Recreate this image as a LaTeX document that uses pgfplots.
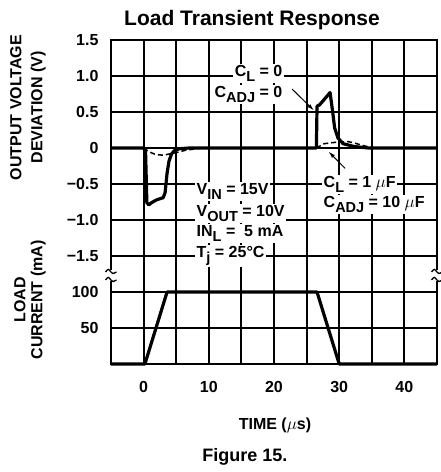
\documentclass[border=0pt]{standalone}
\usepackage{fontspec}
\setmainfont{Liberation Sans}
\usepackage{pgfplots}
\pgfplotsset{compat=1.18}
\usetikzlibrary{arrows.meta}
\newcommand{\sub}[1]{\raisebox{-4.5pt}{\fontsize{14.5}{14.5}\selectfont #1}}
\newcommand{\af}{\bfseries\fontsize{16}{19}\selectfont}

\pgfplotstableread{
t v
-5 0
0 0
0.3 -0.05
0.5 -0.76
0.8 -0.79
1.2 -0.76
2 -0.72
3 -0.69
3.3 -0.62
3.6 -0.35
3.9 -0.18
4.3 -0.08
4.8 -0.03
5.5 -0.01
7 0
26.5 0
26.6 0.58
27 0.60
28.6 0.77
29.0 0.50
29.3 0.28
29.8 0.14
30.6 0.06
32.3 0.02
34.5 0
45 0
}\solidv

\pgfplotstableread{
t v
0 0
0.8 -0.05
1.8 -0.09
3 -0.10
4.7 -0.07
6.5 -0.03
9 0
}\dashA

\pgfplotstableread{
t v
26.5 0
27.7 0.06
29.5 0.08
31.3 0.09
32.3 0.07
33.8 0.03
35.5 0
}\dashB

\pgfplotstableread{
t i
-5 0
0.2 0
3.6 100
26.6 100
30 0
45 0
}\current

\begin{document}
\begin{tikzpicture}
\path[use as bounding box] (0pt,0pt) rectangle (440pt,472pt);
\pgfplotsset{
  common/.style={
    scale only axis, width=326pt,
    xmin=-5, xmax=45,
    xtick={-5,0,5,10,15,20,25,30,35,40,45},
    grid=major,
    grid style={draw=black, line width=2pt},
    major tick length=0pt,
    tick label style={font=\bfseries\fontsize{16}{16}\selectfont},
    yticklabel style={xshift=-9pt},
    axis line style={line width=2pt},
    clip=false,
  }
}
\begin{axis}[common,
  at={(111pt,216pt)}, anchor=south west, height=216pt,
  ymin=-1.5, ymax=1.5,
  ytick={-1.5,-1,-0.5,0,0.5,1,1.5},
  yticklabels={−1.5,−1.0,−0.5,0,0.5,1.0,1.5},
  xticklabels={},
]
\addplot[black, line width=1.5pt, dash pattern=on 5pt off 3pt] table[x=t,y=v]{\dashA};
\addplot[black, line width=1.5pt, dash pattern=on 5pt off 3pt] table[x=t,y=v]{\dashB};
\addplot[black, line width=3.2pt, line join=round] table[x=t,y=v]{\solidv};
\end{axis}

\begin{axis}[common,
  at={(111pt,108pt)}, anchor=south west, height=108pt,
  ymin=0, ymax=150,
  ytick={0,50,100,150},
  yticklabels={,50,100,},
  xticklabels={,0,,10,,20,,30,,40,},
  xticklabel style={yshift=-14pt},
]
\addplot[black, line width=3.2pt, line join=round] table[x=t,y=i]{\current};
\end{axis}

% axis break marks
\foreach \xx in {111,437}{
  \fill[white] (\xx pt-4pt,190.5pt) rectangle (\xx pt+4pt,201.5pt);
  \draw[line width=1.3pt] (\xx pt-5.5pt,200pt) .. controls +(3pt,3.5pt) and +(-3pt,3.5pt) .. (\xx pt,200pt) .. controls +(3pt,-3.5pt) and +(-3pt,0pt) .. (\xx pt+5.5pt,200pt);
  \draw[line width=1.3pt] (\xx pt-5.5pt,192pt) .. controls +(3pt,3.5pt) and +(-3pt,3.5pt) .. (\xx pt,192pt) .. controls +(3pt,-3.5pt) and +(-3pt,0pt) .. (\xx pt+5.5pt,192pt);
}

% annotations
\begin{scope}[every node/.style={font=\af, fill=white, inner sep=1.5pt}]
\node[anchor=base east] at (284pt,395pt) {C\sub{L} = 0};
\node[anchor=base east] at (284pt,374pt) {C\sub{ADJ} = 0};
\node[anchor=base west] at (322pt,284pt) {C\sub{L} = 1 $\mu$F};
\node[anchor=base west] at (322pt,264pt) {C\sub{ADJ} = 10 $\mu$F};
\node[anchor=base west] at (195pt,277pt) {V\sub{IN} = 15V};
\node[anchor=base west] at (195pt,255pt) {V\sub{OUT} = 10V};
\node[anchor=base west] at (195pt,235pt) {IN\sub{L} = \ 5 mA};
\node[anchor=base west] at (195pt,214pt) {T\sub{j} = 25°C};
\end{scope}

\draw[line width=1pt, -{Latex[length=7pt,width=4pt]}] (292pt,383pt) -- (314pt,361.5pt);
\draw[line width=1pt, -{Latex[length=7pt,width=4pt]}] (345pt,303.7pt) -- (328.5pt,320.5pt);

% axis labels
\node[rotate=90, align=center, font=\bfseries\fontsize{16}{21}\selectfont] at (28pt,364.5pt) {OUTPUT VOLTAGE\\DEVIATION (V)};
\node[rotate=90, align=center, font=\bfseries\fontsize{16}{17}\selectfont] at (30pt,172pt) {LOAD\\CURRENT (mA)};
\node[font=\af] at (275pt,47pt) {TIME ($\mu$s)};
\node[font=\bfseries\fontsize{21}{21}\selectfont] at (252pt,452pt) {Load Transient Response};
\node[font=\bfseries\fontsize{18}{18}\selectfont] at (245pt,15pt) {Figure 15.};
\end{tikzpicture}
\end{document}
